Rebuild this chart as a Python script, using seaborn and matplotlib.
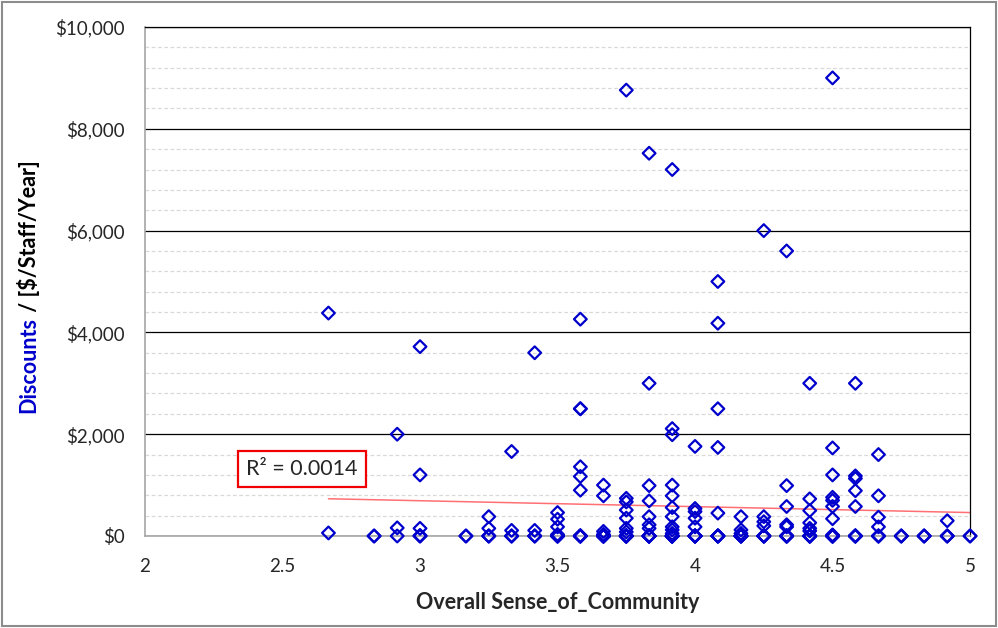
import matplotlib
matplotlib.use("Agg")
import matplotlib.pyplot as plt
from matplotlib.patches import Rectangle
from matplotlib.ticker import MultipleLocator, FuncFormatter
import seaborn as sns
import pandas as pd

# Survey responses: sense-of-community score vs. discounts per staff member
sense_of_community = (
    [2.667] * 2 + [2.833] + [2.917] * 2 + [3.0] * 4 + [3.167] + [3.25] * 3
    + [3.333] * 3 + [3.417] * 3 + [3.5] * 5 + [3.583] * 7 + [3.667] * 5
    + [3.75] * 8 + [3.833] * 8 + [3.917] * 11 + [4.0] * 6 + [4.083] * 6
    + [4.167] * 4 + [4.25] * 5 + [4.333] * 6 + [4.417] * 7 + [4.5] * 9
    + [4.583] * 6 + [4.667] * 5 + [4.75] + [4.833] + [4.917] * 2 + [5.0]
)
discounts = [
    4380, 60,
    0,
    2000, 160,
    3720, 1200, 150, 10,
    0,
    380, 150, 0,
    1660, 110, 0,
    3600, 110, 0,
    460, 330, 180, 30, 0,
    4260, 2500, 2500, 1360, 1170, 900, 0,
    1000, 790, 90, 30, 0,
    8760, 740, 670, 510, 350, 150, 80, 0,
    7520, 3000, 990, 690, 380, 220, 150, 0,
    7200, 2110, 1990, 1000, 790, 560, 380, 180, 120, 50, 0,
    1760, 540, 480, 350, 180, 0,
    5000, 4180, 2500, 1740, 450, 0,
    380, 120, 50, 0,
    6000, 380, 280, 200, 0,
    5600, 990, 580, 220, 180, 0,
    3000, 730, 500, 260, 150, 100, 0,
    9000, 1730, 1200, 760, 700, 580, 340, 20, 0,
    3000, 1180, 1130, 890, 580, 0,
    1600, 790, 370, 180, 0,
    0,
    0,
    300, 0,
    0,
]
# Further respondents reporting no discount (stacked on the $0 line)
no_discount_scores = (
    [2.833] + [2.917] + [3.0] * 2 + [3.167] + [3.25] * 2 + [3.333] * 2
    + [3.417] * 2 + [3.5] * 4 + [3.583] * 5 + [3.667] * 7 + [3.75] * 8
    + [3.833] * 8 + [3.917] * 10 + [4.0] * 7 + [4.083] * 5 + [4.167] * 5
    + [4.25] * 6 + [4.333] * 6 + [4.417] * 6 + [4.5] * 6 + [4.583] * 4
    + [4.667] * 3 + [4.75] * 2 + [4.833] * 2 + [4.917] * 2 + [5.0]
)
r_squared_label = "R² = 0.0014"
x_label = "Overall Sense_of_Community"
y_label_main = "Discounts"
y_label_unit = " / [$/Staff/Year]"

df = pd.DataFrame({
    "score": sense_of_community + no_discount_scores,
    "discount": discounts + [0] * len(no_discount_scores),
})

sns.set_style("white")
plt.rcParams["font.family"] = ["Lato", "DejaVu Sans"]

fig = plt.figure(figsize=(9.98, 6.28), dpi=100)
ax = fig.add_axes([0.1453, 0.1465, 0.972 - 0.1453, 0.957 - 0.1465])

blue = "#0000CC"

# Excel-like gridlines
ax.yaxis.set_major_locator(MultipleLocator(2000))
ax.yaxis.set_minor_locator(MultipleLocator(400))
ax.xaxis.set_major_locator(MultipleLocator(0.5))
ax.grid(which="major", axis="y", color="black", lw=0.9, zorder=0)
ax.grid(which="minor", axis="y", color="#D9D9D9", lw=0.9, ls=(0, (3, 2)), zorder=0)
ax.set_axisbelow(True)

sns.regplot(data=df, x="score", y="discount", scatter=False, ci=None,
            truncate=True, ax=ax,
            line_kws=dict(color="#FF6F73", lw=1.1, zorder=2))
sns.scatterplot(data=df, x="score", y="discount", marker="D", s=42,
                facecolor="none", edgecolor=blue, linewidth=1.6, ax=ax,
                zorder=3, clip_on=False)

ax.set_xlim(2, 5)
ax.set_ylim(0, 10000)

for side in ("left", "bottom"):
    ax.spines[side].set_color("#A6A6A6")
    ax.spines[side].set_linewidth(1.2)
for side in ("top", "right"):
    ax.spines[side].set_color("black")
    ax.spines[side].set_linewidth(0.9)

ax.tick_params(axis="both", which="major", direction="out", length=5.8,
               width=1, color="#A6A6A6", labelsize=13.5)
ax.tick_params(axis="y", which="major", pad=9)
ax.tick_params(axis="x", which="major", pad=10)
ax.tick_params(axis="y", which="minor", length=0)
ax.yaxis.set_major_formatter(FuncFormatter(lambda v, p: f"${v:,.0f}"))
ax.xaxis.set_major_formatter(FuncFormatter(lambda v, p: f"{v:g}"))

ax.set_xlabel(x_label, fontsize=15.5, fontweight="bold", labelpad=12)
ax.set_ylabel("")

# Two-colour axis title: quantity in blue, unit in black
t_main = fig.text(0.029, 1 - 413 / 628, y_label_main, rotation=90, color=blue,
                  fontsize=15.5, fontweight="bold", ha="center", va="bottom")
fig.canvas.draw()
bb = t_main.get_window_extent()
fig.text(0.029, bb.y1 / fig.bbox.height, y_label_unit, rotation=90,
         color="black", fontsize=15.5, fontweight="bold",
         ha="center", va="bottom")

ax.text(2.571, 1316, r_squared_label, fontsize=15.5, ha="center", va="center",
        zorder=5,
        bbox=dict(boxstyle="square,pad=0.38", fc="white", ec="#F00000", lw=1.6))

fig.patches.append(Rectangle((0.002, 0.003), 0.996, 0.994, transform=fig.transFigure,
                             fill=False, ec="#8C8C8C", lw=1.5))

fig.savefig("out.png", dpi=100)
